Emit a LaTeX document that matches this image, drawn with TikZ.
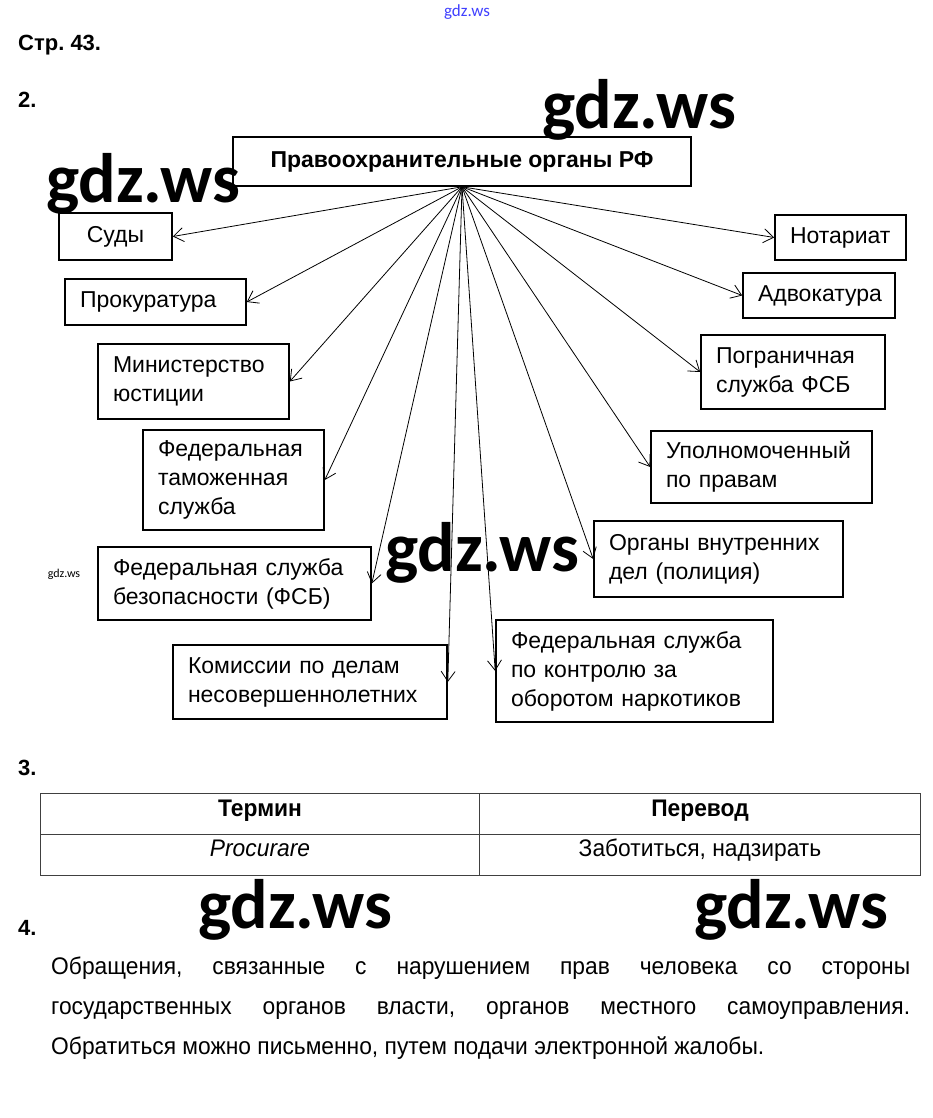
\documentclass[tikz,border=0pt]{standalone}
\usepackage{fontspec}
\setmainfont{Liberation Sans}
\newfontfamily\wmfont{Carlito}
\newfontfamily\narrowfont{Liberation Sans}[FakeStretch=0.95]
\usetikzlibrary{arrows.meta,positioning}
\frenchspacing

\tikzset{
  organ/.style={draw, line width=1.6pt, align=left, inner xsep=15pt, inner ysep=0pt,
    font=\fontsize{23}{29}\selectfont},
  link/.style={line width=0.8pt, -{Straight Barb[length=10pt,width=14pt]}},
  wmark/.style={font=\wmfont\bfseries\fontsize{70}{70}\selectfont, inner sep=0pt},
  numlabel/.style={font=\bfseries\fontsize{22}{24}\selectfont, anchor=west, inner sep=0pt},
  cell/.style={font=\narrowfont\fontsize{24}{26}\selectfont, inner sep=0pt, anchor=base},
  tabline/.style={draw=black!75, line width=0.8pt}
}

\begin{document}
\begin{tikzpicture}[x=1pt, y=-1pt]
    \useasboundingbox (0,0) rectangle (933,1118);

    % headings
    \node[font=\wmfont\fontsize{17}{17}\selectfont, text=blue!75, inner sep=0pt] (topwm) at (467,12) {gdz.ws};
    \node[numlabel] (page) at (18,45) {Стр.~43.};
    \node[numlabel] (task2) at (18,100) {2.};

    % root
    \node[draw, line width=1.6pt, minimum width=458pt, minimum height=49pt, inner sep=0pt,
          font=\bfseries\fontsize{23}{26}\selectfont] (head) at (462,161.5) {Правоохранительные органы РФ};

    % left column
    \node[organ, text width=83pt, align=center, minimum height=47pt] (sudy) at (115.5,236.5) {Суды};
    \node[organ, text width=151pt, minimum height=46pt] (prok) at (155.5,302) {Прокуратура};
    \node[organ, text width=161pt, minimum height=75pt] (minjust) at (193.5,381.5) {Министерство\\юстиции};
    \node[organ, text width=151pt, minimum height=100pt] (tamozh) at (233.5,480) {Федеральная\\таможенная\\служба};
    \node[organ, text width=243pt, minimum height=73pt] (fsb) at (234.5,583.5) {Федеральная служба\\безопасности (ФСБ)};
    \node[organ, text width=244pt, minimum height=74pt] (kdn) at (310,682) {Комиссии по делам\\несовершеннолетних};

    % right column
    \node[organ, text width=101pt, minimum height=45pt] (notar) at (840.5,237.5) {Нотариат};
    \node[organ, text width=122pt, minimum height=45pt] (advok) at (819,295.5) {Адвокатура};
    \node[organ, text width=154pt, minimum height=74pt] (pogran) at (793,372) {Пограничная\\служба ФСБ};
    \node[organ, text width=191pt, minimum height=72pt] (upoln) at (761.5,467) {Уполномоченный\\по правам};
    \node[organ, text width=219pt, minimum height=76pt] (ovd) at (718.5,559) {Органы внутренних\\дел (полиция)};
    \node[organ, text width=247pt, minimum height=102pt] (fskn) at (634.5,671) {Федеральная служба\\по контролю за\\оборотом наркотиков};

    % arrows from the root
    \foreach \b in {sudy,prok,minjust,tamozh,fsb,kdn}
        \draw[link] (head.south) -- (\b.east);
    \foreach \b in {notar,advok,pogran,upoln,ovd,fskn}
        \draw[link] (head.south) -- (\b.west);

    % task 3 table
    \node[numlabel] (task3) at (18,768) {3.};
    \draw[tabline] (40,793) rectangle (920,875);
    \draw[tabline] (479,793) -- (479,875);
    \draw[tabline] (40,834) -- (920,834);
    \node[cell, font=\narrowfont\bfseries\fontsize{24}{26}\selectfont] (term) at (260,816) {Термин};
    \node[cell, font=\narrowfont\bfseries\fontsize{24}{26}\selectfont] (transl) at (700,816) {Перевод};
    \node[cell, font=\narrowfont\itshape\fontsize{24}{26}\selectfont] (latin) at (260,856) {Procurare};
    \node[cell] (rus) at (700,856) {Заботиться, надзирать};

    % task 4
    \node[numlabel] (task4) at (18,928) {4.};
    \node[anchor=north west, text width=859pt, align=justify, inner sep=0pt,
          font=\narrowfont\fontsize{24}{40}\selectfont] (answer) at (51,957)
        {\hyphenpenalty=10000 Обращения, связанные с нарушением прав человека со стороны\linebreak
         государственных органов власти, органов местного самоуправления.\linebreak
         Обратиться можно письменно, путем подачи электронной жалобы.};

    % watermarks
    \node[wmark] (wm1) at (639,110) {gdz.ws};
    \node[wmark] (wm2) at (143,184) {gdz.ws};
    \node[wmark] (wm3) at (482,553) {gdz.ws};
    \node[wmark] (wm4) at (295,910) {gdz.ws};
    \node[wmark] (wm5) at (791,910) {gdz.ws};
    \node[font=\wmfont\fontsize{12}{12}\selectfont, inner sep=0pt] (wm6) at (64,574) {gdz.ws};
\end{tikzpicture}
\end{document}
